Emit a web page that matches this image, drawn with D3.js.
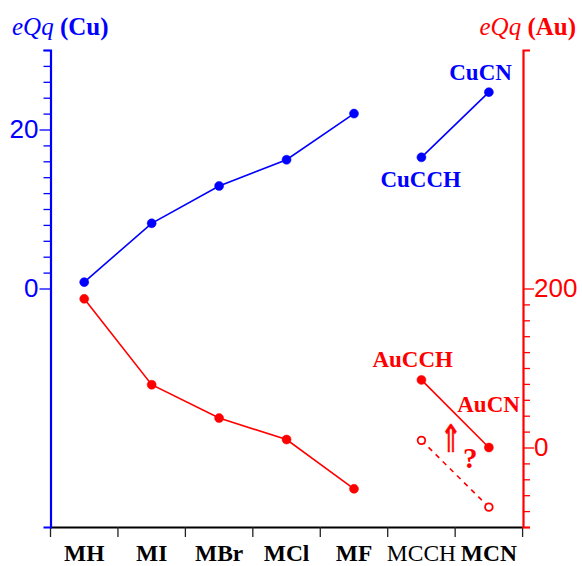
<!DOCTYPE html>
<html><head><meta charset="utf-8">
<script src="https://cdn.jsdelivr.net/npm/d3@7"></script>
<style>body{margin:0;background:#fff}svg{display:block}</style>
</head><body>
<script>
const categories = ["MH","MI","MBr","MCl","MF","MCCH","MCN"];
const boldCategory = [true,true,true,true,true,false,true];
const halideCats = ["MH","MI","MBr","MCl","MF"];
const pseudoCats = ["MCCH","MCN"];
const cuHalides = [0.8, 8.2, 12.9, 16.2, 22.0];
const cuPseudo = [16.5, 24.7];
const auHalides = [187, 79, 37, 10, -52];
const auPseudo = [85, 0];
const auDashed = [9, -75];
const leftTicks = d3.range(0, 31, 2);
const leftLabels = [0, 20];
const rightTicks = d3.range(-100, 201, 20);
const rightLabels = [0, 200];

const W = 582, H = 566;
const BLUE = "#0000ff", RED = "#ff0000";
const svg = d3.select("body").append("svg").attr("width", W).attr("height", H);

const x = d3.scaleBand().domain(categories).range([50.5, 522.6]);
const cx = c => x(c) + x.bandwidth() / 2;
const yL = d3.scaleLinear().domain([-30, 30]).range([527, 50]);
const yR = d3.scaleLinear().domain([-100, 500]).range([527, 50]);

// X axis
const xAxis = d3.axisBottom(x).tickSize(0).tickPadding(0);
const gx = svg.append("g").attr("transform", "translate(0,527)").call(xAxis);
gx.select(".domain").attr("stroke", "#000").attr("stroke-width", 2.2);
gx.selectAll(".tick text")
  .attr("y", 34).attr("dy", 0)
  .attr("font-family", "'Liberation Serif', 'Times New Roman', serif")
  .attr("font-size", 23.5)
  .attr("font-weight", (d, i) => boldCategory[i] ? "bold" : "normal")
  .attr("fill", "#000");
// boundary ticks
const bounds = categories.map(c => x(c)).concat([x.range()[1]]);
gx.selectAll("line.bound").data(bounds).enter().append("line")
  .attr("class", "bound")
  .attr("x1", d => d).attr("x2", d => d)
  .attr("y1", 0).attr("y2", 10)
  .attr("stroke", "#222").attr("stroke-width", 1.3);

// Left axis
const gl = svg.append("g").attr("transform", "translate(50.5,0)")
  .call(d3.axisLeft(yL).tickValues(leftTicks).tickSizeOuter(0).tickSize(7)
    .tickFormat(d => leftLabels.includes(d) ? d : ""));
gl.select(".domain").attr("stroke", BLUE).attr("stroke-width", 2.2);
gl.selectAll(".tick line").attr("stroke", BLUE).attr("stroke-width", 1.3)
  .attr("x2", d => leftLabels.includes(d) ? -11 : -7);
gl.selectAll(".tick text").attr("x", -12).attr("fill", BLUE)
  .attr("font-family", "'Liberation Sans', Arial, sans-serif").attr("font-size", 26);

// Right axis
const gr = svg.append("g").attr("transform", "translate(523,0)")
  .call(d3.axisRight(yR).tickValues(rightTicks).tickSizeOuter(0).tickSize(7)
    .tickFormat(d => rightLabels.includes(d) ? d : ""));
gr.select(".domain").attr("stroke", RED).attr("stroke-width", 2.2);
gr.selectAll(".tick line").attr("stroke", RED).attr("stroke-width", 1.3)
  .attr("x2", d => rightLabels.includes(d) ? 11 : 7);
gr.selectAll(".tick text").attr("x", 11).attr("fill", RED)
  .attr("font-family", "'Liberation Sans', Arial, sans-serif").attr("font-size", 26);

// Series
function series(cats, vals, y, color, dashed, open) {
  const pts = cats.map((c, i) => [cx(c), y(vals[i])]);
  svg.append("path").attr("d", d3.line()(pts)).attr("fill", "none")
    .attr("stroke", color).attr("stroke-width", 1.6)
    .attr("stroke-dasharray", dashed ? "5,5" : null);
  svg.selectAll(null).data(pts).enter().append("circle")
    .attr("cx", d => d[0]).attr("cy", d => d[1])
    .attr("r", open ? 3.8 : 4.5)
    .attr("fill", open ? "#fff" : color)
    .attr("stroke", color).attr("stroke-width", open ? 1.8 : 0.5);
}
series(halideCats, cuHalides, yL, BLUE);
series(pseudoCats, cuPseudo, yL, BLUE);
series(halideCats, auHalides, yR, RED);
series(pseudoCats, auPseudo, yR, RED);
series(pseudoCats, auDashed, yR, RED, true, true);

const serif = "'Liberation Serif', 'Times New Roman', serif";
function label(txt, xx, yy, color, anchor, size, weight, style) {
  svg.append("text").attr("x", xx).attr("y", yy).text(txt)
    .attr("fill", color).attr("font-family", serif)
    .attr("font-size", size || 23).attr("font-weight", weight || "bold")
    .attr("font-style", style || "normal")
    .attr("text-anchor", anchor || "start");
}
// Titles
const t1 = svg.append("text").attr("x", 12).attr("y", 35).attr("fill", BLUE)
  .attr("font-family", serif).attr("font-size", 25);
t1.append("tspan").attr("font-style", "italic").text("eQq");
t1.append("tspan").attr("font-weight", "bold").text(" (Cu)");
const t2 = svg.append("text").attr("x", 576).attr("y", 35).attr("fill", RED)
  .attr("text-anchor", "end").attr("font-family", serif).attr("font-size", 25);
t2.append("tspan").attr("font-style", "italic").text("eQq");
t2.append("tspan").attr("font-weight", "bold").text(" (Au)");

// Annotations
label("CuCN", cx("MCN") + 23, yL(cuPseudo[1]) - 12, BLUE, "end");
label("CuCCH", cx("MCCH") - 41, yL(cuPseudo[0]) + 30, BLUE);
label("AuCCH", cx("MCCH") - 49, yR(auPseudo[0]) - 13, RED);
label("AuCN", cx("MCN") + 31, yR(auPseudo[1]) - 36, RED, "end");
svg.append("text").text("\u21D1")
  .attr("transform", "translate(440,452) scale(1.3,1.9)")
  .attr("fill", RED).attr("stroke", RED).attr("stroke-width", 0.35)
  .attr("font-family", "'DejaVu Sans', sans-serif")
  .attr("font-size", 20);
label("?", 463, 468, RED, "start", 29);
</script>
</body></html>
